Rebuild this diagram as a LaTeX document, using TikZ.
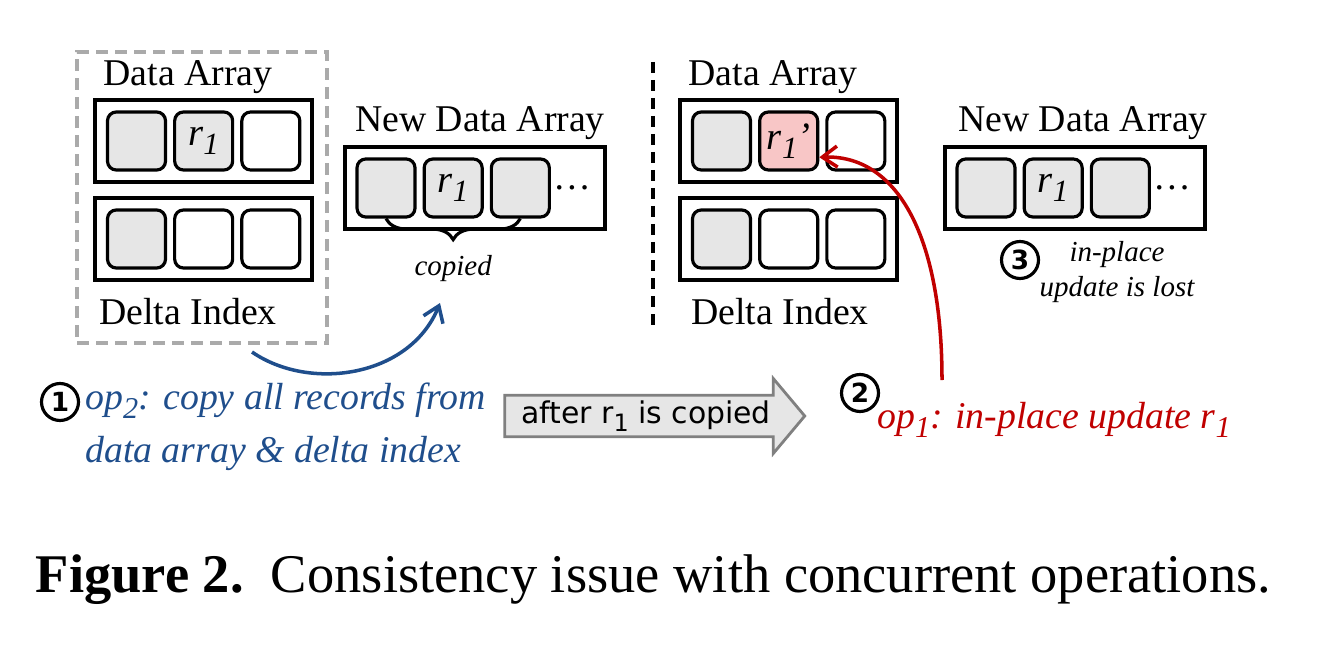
\documentclass[tikz,border=0pt]{standalone}
\usepackage{graphicx}
\usepackage{fontspec}
\setmainfont{Liberation Serif}
\newfontfamily\flowfont{DejaVu Sans}
\usetikzlibrary{arrows.meta,positioning,fit,shapes.arrows,decorations.pathreplacing}
\definecolor{CellGray}{HTML}{E6E6E6}
\definecolor{PinkCell}{HTML}{F8C6C6}
\definecolor{OpBlue}{HTML}{1F4E8C}
\definecolor{OpRed}{HTML}{C00000}
\definecolor{DashGray}{HTML}{AAAAAA}
\definecolor{ArrowGray}{HTML}{808080}
\newcommand{\sub}[1]{\raisebox{-0.5ex}{\scalebox{0.8}{#1}}}
\newcommand{\rone}{\textit{r\sub{1}}}

\begin{document}
\begin{tikzpicture}[
    cell/.style={draw,line width=1.8pt,rounded corners=5pt,minimum size=1.16cm,
      inner sep=0pt,font=\fontsize{22}{24}\selectfont},
    gcell/.style={cell,fill=CellGray},
    wcell/.style={cell,fill=white},
    pcell/.style={cell,fill=PinkCell},
    arraybox/.style={draw,line width=2.2pt,inner sep=0.21cm},
    lbl/.style={font=\fontsize{21.5}{24}\selectfont,inner sep=0pt},
    note/.style={font=\fontsize{16.5}{20}\selectfont\itshape,inner sep=0pt,align=center},
    num/.style={circle,draw,line width=1.8pt,minimum size=0.74cm,inner sep=0pt,
      font=\flowfont\bfseries\fontsize{15}{15}\selectfont},
    optext/.style={font=\fontsize{21.5}{30}\selectfont\itshape,inner sep=0pt,align=left},
    arr/.style={line width=2pt,-{Straight Barb[length=0.3cm,width=0.42cm]}},
    copybrace/.style={decorate,decoration={brace,mirror,amplitude=0.42cm},line width=1.8pt},
    stagearrow/.style={single arrow,draw=ArrowGray,fill=CellGray,line width=1.6pt,
      minimum height=6cm,minimum width=1.5cm,single arrow head extend=0.27cm,
      single arrow tip angle=100,inner sep=0pt,font=\flowfont\fontsize{17}{17}\selectfont},
    node distance=0.12cm
  ]
    \useasboundingbox (0,0) rectangle (26.68,13.04);

    % left: arrays before the copy
    \node[draw=DashGray,dash pattern=on 0.24cm off 0.14cm,line width=2pt,
      minimum width=5cm,minimum height=5.82cm] (srcgroup) at (4.04,9.09) {};
    \node[lbl] (ltitle) at (3.76,11.5) {Data Array};
    \node[gcell] (la1) at (2.73,10.22) {};
    \node[gcell,right=of la1] (la2) {\rone};
    \node[wcell,right=of la2] (la3) {};
    \node[arraybox,fit=(la1)(la3)] (ltop) {};
    \node[gcell] (ld1) at (2.73,8.26) {};
    \node[wcell,right=of ld1] (ld2) {};
    \node[wcell,right=of ld2] (ld3) {};
    \node[arraybox,fit=(ld1)(ld3)] (ldelta) {};
    \node[lbl] (ldtitle) at (3.76,6.8) {Delta Index};

    % new data array being filled
    \node[lbl] (ntitle) at (9.6,10.58) {New Data Array};
    \node[gcell] (na1) at (7.72,9.28) {};
    \node[gcell,right=of na1] (na2) {\rone};
    \node[gcell,right=of na2] (na3) {};
    \node[lbl,right=0pt of na3,minimum width=0.85cm] (ndots) {\ldots};
    \node[arraybox,fit=(na1)(ndots)] (nbox) {};
    \draw[copybrace] (na1.south) -- node[note,below=0.7cm] (cpy) {copied} (na3.south);

    % separator
    \draw[line width=1.8pt,dash pattern=on 0.22cm off 0.14cm] (13.06,11.8) -- (13.06,6.54);

    % right: arrays after the update
    \node[lbl] (rtitle) at (15.46,11.5) {Data Array};
    \node[gcell] (ra1) at (14.43,10.22) {};
    \node[pcell,right=of ra1] (ra2) {\textit{r\sub{1}'}};
    \node[wcell,right=of ra2] (ra3) {};
    \node[arraybox,fit=(ra1)(ra3)] (rtop) {};
    \node[gcell] (rd1) at (14.43,8.26) {};
    \node[wcell,right=of rd1] (rd2) {};
    \node[wcell,right=of rd2] (rd3) {};
    \node[arraybox,fit=(rd1)(rd3)] (rdelta) {};
    \node[lbl] (rdtitle) at (15.6,6.8) {Delta Index};

    \node[lbl] (mtitle) at (21.66,10.58) {New Data Array};
    \node[gcell] (nb1) at (19.72,9.28) {};
    \node[gcell,right=of nb1] (nb2) {\rone};
    \node[gcell,right=of nb2] (nb3) {};
    \node[lbl,right=0pt of nb3,minimum width=0.85cm] (nbdots) {\ldots};
    \node[arraybox,fit=(nb1)(nbdots)] (mbox) {};
    \node[num] (s3) at (20.4,7.84) {3};
    \node[note] (lost) at (22.34,7.6) {in-place\\update is lost};

    % operations
    \node[num] (s1) at (1.2,5.0) {1};
    \node[optext,text=OpBlue,anchor=west] (op2) at (1.7,4.51)
      {op\sub{2}: copy all records from\\data array \& delta index};
    \node[stagearrow] (after) at (12.92,4.72) {after r\sub{1} is copied};
    \node[num] (s2) at (17.2,5.18) {2};
    \node[optext,text=OpRed,anchor=west] (op1) at (17.54,4.64) {op\sub{1}: in-place update r\sub{1}};

    \coordinate (cpystart) at (5.04,6.0);
    \coordinate (cpytip) at (8.8,6.98);
    \coordinate (updstart) at (18.84,5.44);
    \draw[arr,OpBlue] (cpystart) .. controls (6.2,5.2) and (8.2,5.5) .. (cpytip);
    \draw[arr,OpRed] (updstart) .. controls (18.84,8.4) and (17.9,9.95) .. (ra2.-28);

    \node[font=\fontsize{31}{34}\selectfont,inner sep=0pt] (caption) at (13.07,1.44)
      {\textbf{Figure 2.}\hspace{0.5em}Consistency issue with concurrent operations.};
  \end{tikzpicture}
\end{document}
